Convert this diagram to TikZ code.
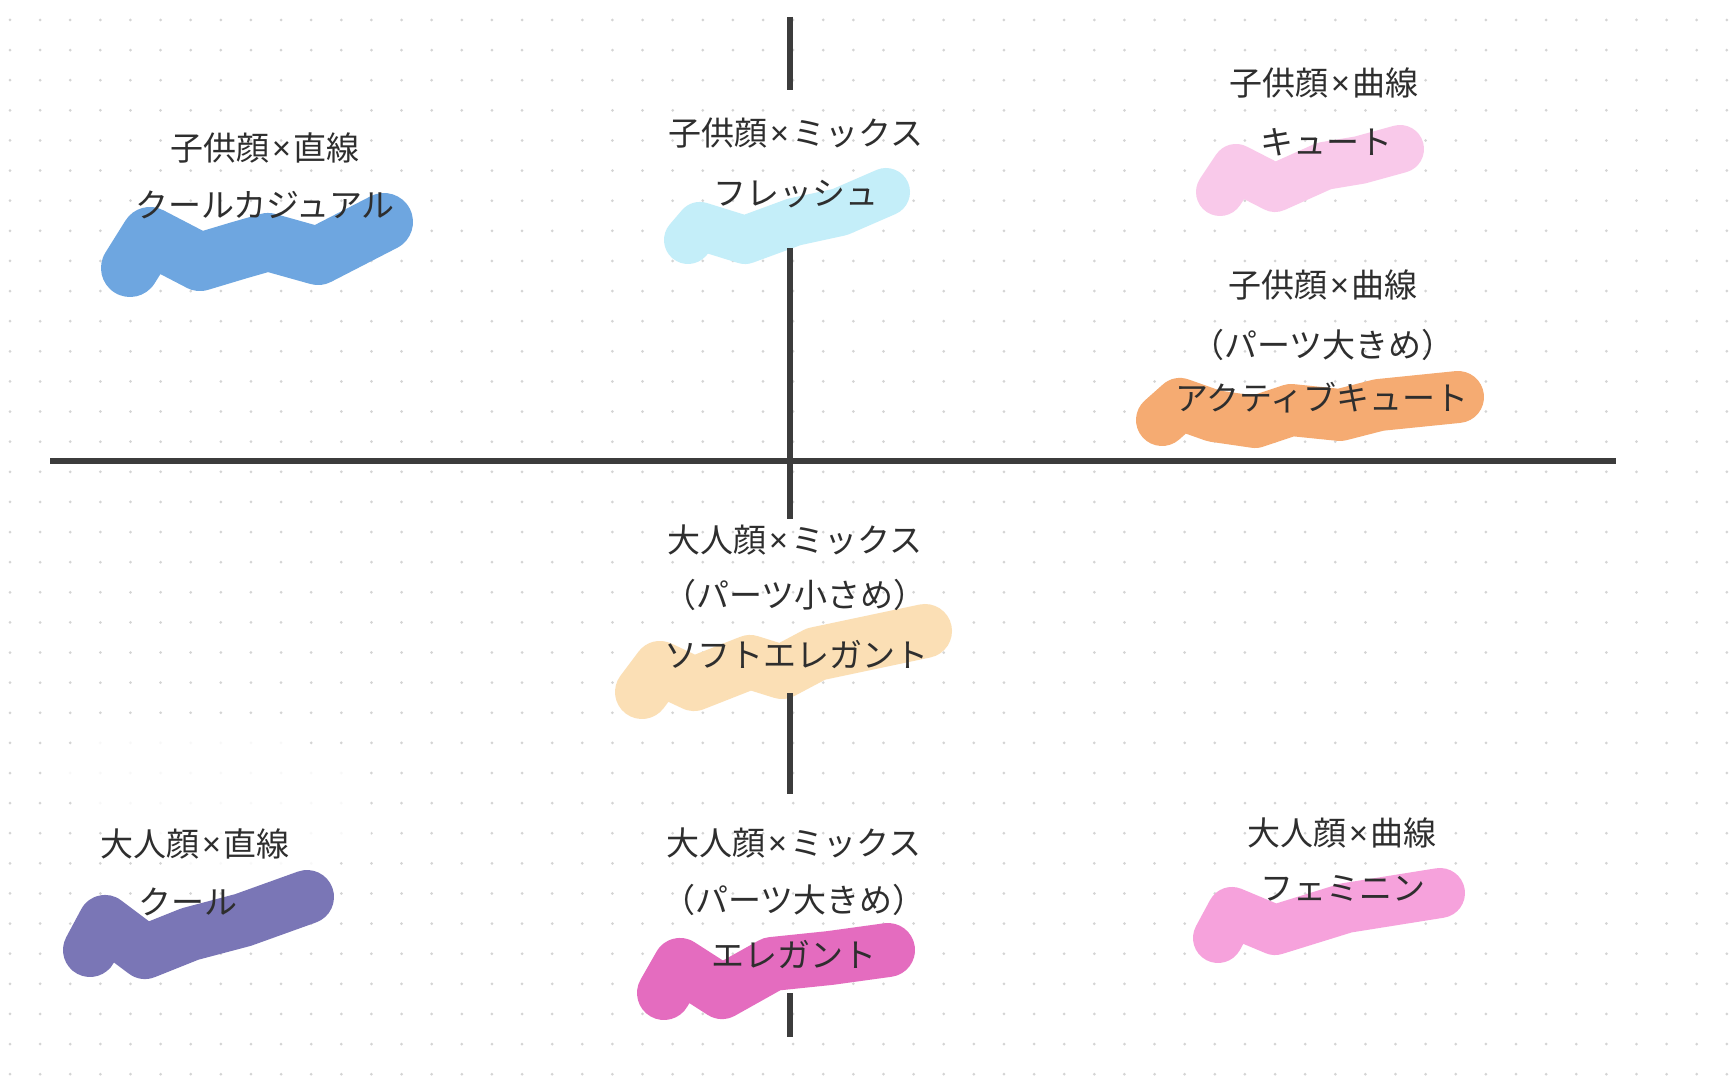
\documentclass[tikz,border=0pt]{standalone}
\usepackage{fontspec}
\newfontfamily\jpfont{Noto Sans CJK JP}
\newfontfamily\latinfont{Noto Sans}
\newcommand\kakeru{\hspace{0.08em}{\latinfont\bfseries ×}\hspace{0.08em}}
\definecolor{axisgray}{HTML}{3C3C3C}
\definecolor{txtgray}{HTML}{2E2E2E}
\definecolor{dotgray}{HTML}{D4D4D4}
\definecolor{cBlue}{HTML}{6EA6E0}
\definecolor{cCyan}{HTML}{C4EEF9}
\definecolor{cLpink}{HTML}{F9C9EA}
\definecolor{cOrange}{HTML}{F5AB72}
\definecolor{cBeige}{HTML}{FBDFB5}
\definecolor{cPurple}{HTML}{7A76B6}
\definecolor{cMagenta}{HTML}{E46CBF}
\definecolor{cPink}{HTML}{F6A2DC}
\tikzset{
  axisline/.style={draw=axisgray, line width=2.75pt},
  brush/.style={line cap=round, line join=round, line width=#1},
  lbl/.style={font=\jpfont\fontsize{16.5pt}{20pt}\selectfont, text=txtgray, inner sep=0pt, text height=0.88em, text depth=0.12em, anchor=center}
}
\begin{document}
\begin{tikzpicture}[x=0.5pt,y=-0.5pt]
\useasboundingbox (0,0) rectangle (1730,1080);
\fill[white] (0,0) rectangle (1730,1080);
% dot grid
\foreach \i in {0,...,57}{
  \foreach \j in {0,...,35}{
    \fill[dotgray] ({10+30.12*\i},{20+30.12*\j}) circle (0.75pt);
  }
}
% faded (erased) patch
\fill[white, opacity=0.85, rotate around={-12:(220,795)}] (220,795) ellipse [x radius=78pt, y radius=38pt];

% brush strokes
\draw[cBlue, brush=29pt] (130,268) -- (150,236) -- (200,262) -- (240,250) -- (268,242) -- (318,256) -- (384,222);
\draw[cCyan, brush=24pt] (688,240) -- (700,226) -- (745,240) -- (794,222) -- (840,212) -- (886,192);
\draw[cLpink, brush=24pt] (1220,192) -- (1236,168) -- (1275,188) -- (1324,166) -- (1360,160) -- (1400,149);
\draw[cOrange, brush=26pt] (1162,420) -- (1180,404) -- (1214,416) -- (1255,422) -- (1291,410) -- (1340,415) -- (1379,405) -- (1458,397);
\draw[cBeige, brush=27pt] (642,692) -- (660,668) -- (694,684) -- (750,662) -- (782,672) -- (816,654) -- (925,631);
\draw[cPurple, brush=27pt] (90,950) -- (105,922) -- (145,952) -- (190,934) -- (243,920) -- (307,897);
\draw[cMagenta, brush=27pt] (664,993) -- (680,965) -- (722,992) -- (772,964) -- (830,958) -- (888,950);
\draw[cPink, brush=25pt] (1218,938) -- (1232,912) -- (1275,930) -- (1346,908) -- (1440,893);

% axes
\coordinate (hL) at (50,461);
\coordinate (hR) at (1616,461);
\coordinate (v1a) at (790,17);  \coordinate (v1b) at (790,90);
\coordinate (v2a) at (790,248); \coordinate (v2b) at (790,519);
\coordinate (v3a) at (790,693); \coordinate (v3b) at (790,794);
\coordinate (v4a) at (790,993); \coordinate (v4b) at (790,1037);
\draw[axisline] (hL) -- (hR);
\draw[axisline] (v1a) -- (v1b);
\draw[axisline] (v2a) -- (v2b);
\draw[axisline] (v3a) -- (v3b);
\draw[axisline] (v4a) -- (v4b);

% labels
\node[lbl] (a1) at (265,153) {子供顔\kakeru 直線};
\node[lbl] (a2) at (265,210) {クールカジュアル};
\node[lbl] (b1) at (796,138) {子供顔\kakeru ミックス};
\node[lbl] (b2) at (796,198) {フレッシュ};
\node[lbl] (c1) at (1324,88) {子供顔\kakeru 曲線};
\node[lbl] (c2) at (1326,147) {キュート};
\node[lbl] (d1) at (1323,290) {子供顔\kakeru 曲線};
\node[lbl] (d2) at (1323,350) {（パーツ大きめ）};
\node[lbl] (d3) at (1322,403) {アクティブキュート};
\node[lbl] (e1) at (795,545) {大人顔\kakeru ミックス};
\node[lbl] (e2) at (795,600) {（パーツ小さめ）};
\node[lbl] (e3) at (796,660) {ソフトエレガント};
\node[lbl] (f1) at (195,849) {大人顔\kakeru 直線};
\node[lbl] (f2) at (188,907) {クール};
\node[lbl] (g1) at (794,848) {大人顔\kakeru ミックス};
\node[lbl] (g2) at (794,905) {（パーツ大きめ）};
\node[lbl] (g3) at (794,960) {エレガント};
\node[lbl] (h1) at (1342,838) {大人顔\kakeru 曲線};
\node[lbl] (h2) at (1343,893) {フェミニン};
\end{tikzpicture}
\end{document}
